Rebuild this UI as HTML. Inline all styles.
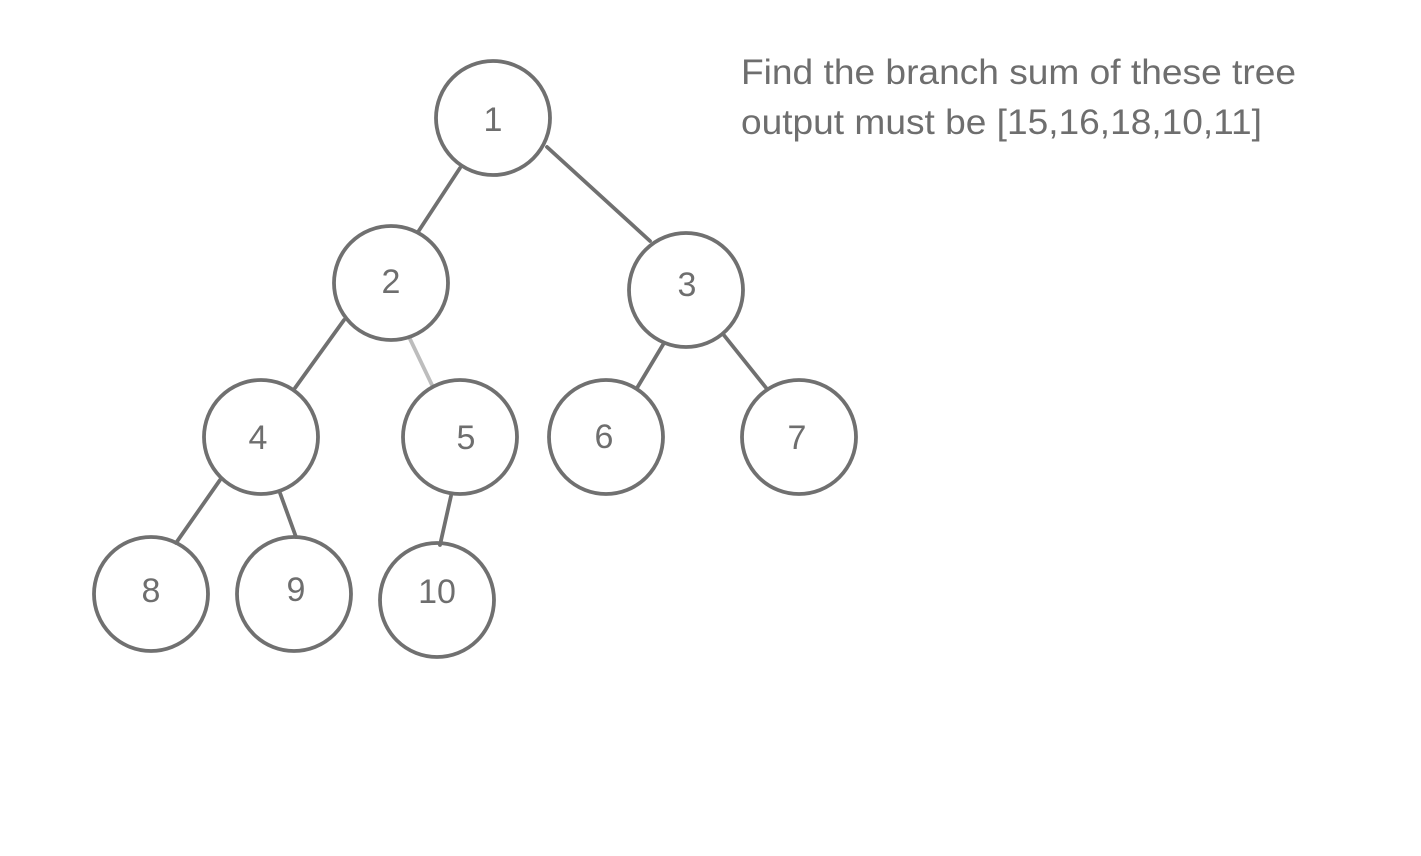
<!DOCTYPE html>
<html><head><meta charset="utf-8"><style>
html,body{margin:0;padding:0;background:#fff;width:1421px;height:856px;overflow:hidden}
svg text{font-family:"Liberation Sans","DejaVu Sans",sans-serif;fill:#6e6e6e}
</style></head><body>
<svg width="1421" height="856" viewBox="0 0 1421 856" xmlns="http://www.w3.org/2000/svg">
<g stroke="#707070" stroke-width="3.8" fill="none" stroke-linecap="round">
<line x1="460" y1="168" x2="418" y2="232"/>
<line x1="547" y1="147" x2="650" y2="241"/>
<line x1="344" y1="320" x2="295" y2="388"/>
<line x1="410" y1="339" x2="432" y2="385" stroke="#bdbdbd"/>
<line x1="664" y1="343" x2="637" y2="388"/>
<line x1="723" y1="334" x2="767" y2="389"/>
<line x1="220" y1="480" x2="176" y2="543"/>
<line x1="280" y1="493" x2="296" y2="537"/>
<line x1="451" y1="496" x2="440" y2="545"/>
<circle cx="493" cy="118" r="57"/>
<circle cx="391" cy="283" r="57"/>
<circle cx="686" cy="290" r="57"/>
<circle cx="261" cy="437" r="57"/>
<circle cx="460" cy="437" r="57"/>
<circle cx="606" cy="437" r="57"/>
<circle cx="799" cy="437" r="57"/>
<circle cx="151" cy="594" r="57"/>
<circle cx="294" cy="594" r="57"/>
<circle cx="437" cy="600" r="57"/>
</g>
<g font-size="34" text-anchor="middle">
<text x="493" y="131">1</text>
<text x="391" y="293">2</text>
<text x="687" y="296">3</text>
<text x="258" y="449">4</text>
<text x="466" y="449">5</text>
<text x="604" y="448">6</text>
<text x="797" y="449">7</text>
<text x="151" y="602">8</text>
<text x="296" y="601">9</text>
<text x="437" y="603">10</text>
</g>
<g font-size="35">
<text x="741" y="84" textLength="555" lengthAdjust="spacingAndGlyphs">Find the branch sum of these tree</text>
<text x="741" y="134" textLength="521" lengthAdjust="spacingAndGlyphs">output must be [15,16,18,10,11]</text>
</g>
</svg>
</body></html>
